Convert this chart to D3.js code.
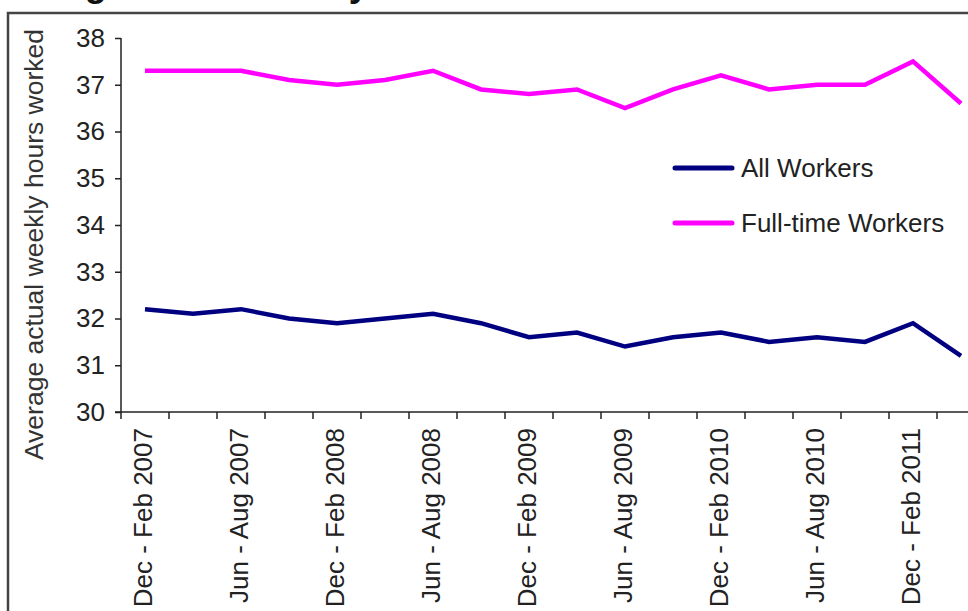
<!DOCTYPE html>
<html>
<head>
<meta charset="utf-8">
<script src="https://cdn.jsdelivr.net/npm/d3@7"></script>
<style>
  body { margin: 0; background: #fff; }
  text { font-family: "Liberation Sans", Arial, sans-serif; fill: #222; }
</style>
</head>
<body>
<script>
// ----------------------------------- DATA --------------------------------------------
var periods = ['Dec - Feb 2007', 'Mar - May 2007', 'Jun - Aug 2007', 'Sep - Nov 2007',
               'Dec - Feb 2008', 'Mar - May 2008', 'Jun - Aug 2008', 'Sep - Nov 2008',
               'Dec - Feb 2009', 'Mar - May 2009', 'Jun - Aug 2009', 'Sep - Nov 2009',
               'Dec - Feb 2010', 'Mar - May 2010', 'Jun - Aug 2010', 'Sep - Nov 2010',
               'Dec - Feb 2011', 'Mar - May 2011']

var allWorkers = [32.2, 32.1, 32.2, 32.0, 31.9, 32.0, 32.1, 31.9, 31.6, 31.7,
                  31.4, 31.6, 31.7, 31.5, 31.6, 31.5, 31.9, 31.2]

var fullTimeWorkers = [37.3, 37.3, 37.3, 37.1, 37.0, 37.1, 37.3, 36.9, 36.8, 36.9,
                       36.5, 36.9, 37.2, 36.9, 37.0, 37.0, 37.5, 36.6]

var yTicks = [30, 31, 32, 33, 34, 35, 36, 37, 38]

var seriesNames = ['All Workers', 'Full-time Workers']
var seriesColors = ['#000080', '#ff00ff']

var chartTitle = 'Average actual weekly hours worked'
var yTitle = 'Average actual weekly hours worked'

// ----------------------------------- SVG and BACKGROUND --------------------------------------------
var width = 968
var height = 611

var svg = d3.select('body')
      .append('svg')
      .attr('width', width)
      .attr('height', height)

svg.append('rect')
      .attr('width', '100%')
      .attr('height', '100%')
      .attr('fill', '#fff')

// title sits above the cropped top edge, only its descenders show
svg.append('text')
      .attr('x', -14)
      .attr('y', -4)
      .style('font-size', '36px')
      .style('font-weight', 'bold')
      .style('fill', '#111')
      .text(chartTitle)

// chart frame, runs off the right and bottom
svg.append('rect')
      .attr('x', 8)
      .attr('y', 13)
      .attr('width', 1000)
      .attr('height', 700)
      .attr('fill', 'none')
      .attr('stroke', '#444')
      .attr('stroke-width', 2.5)

// ----------------------------------- SCALES --------------------------------------------
var x = d3.scaleBand()
      .domain(periods)
      .range([121, 121 + 48 * periods.length])

var y = d3.scaleLinear()
      .domain([30, 38])
      .range([412, 38])

// ----------------------------------- AXES --------------------------------------------
var yAxis = svg.append('g')
      .attr('transform', 'translate(121,0)')
      .call(d3.axisLeft(y).tickValues(yTicks).tickSize(6).tickPadding(10).tickFormat(d3.format('d')))

yAxis.select('.domain').attr('stroke', '#222').attr('stroke-width', 1.5).attr('d', 'M0,38V412')
yAxis.selectAll('.tick line').attr('stroke', '#222').attr('stroke-width', 1.5)
yAxis.selectAll('.tick text').style('font-size', '26px').style('fill', '#222')

var xAxis = svg.append('g')
      .attr('transform', 'translate(0,412)')
      .call(d3.axisBottom(x).tickSize(0).tickFormat(''))

xAxis.select('.domain').attr('stroke', '#222').attr('stroke-width', 1.5)
      .attr('d', 'M115,0H' + width)

// ticks between categories
xAxis.selectAll('line.sep')
      .data(periods)
      .enter()
      .append('line')
      .attr('class', 'sep')
      .attr('x1', function(d){ return x(d) })
      .attr('x2', function(d){ return x(d) })
      .attr('y1', 0)
      .attr('y2', 7)
      .attr('stroke', '#222')
      .attr('stroke-width', 1.5)

// labels on every other category
xAxis.selectAll('text.lab')
      .data(periods.filter(function(d, i){ return i % 2 === 0 }))
      .enter()
      .append('text')
      .attr('class', 'lab')
      .attr('transform', function(d){
        return 'translate(' + (x(d) + x.bandwidth() / 2 - 2) + ',16) rotate(-90)'
      })
      .attr('dy', '0.35em')
      .attr('text-anchor', 'end')
      .style('font-size', '26px')
      .style('fill', '#222')
      .text(function(d){ return d })

svg.append('text')
      .attr('transform', 'translate(43,29) rotate(-90)')
      .attr('text-anchor', 'end')
      .style('font-size', '26.5px')
      .style('fill', '#333')
      .text(yTitle)

// ----------------------------------- LINES --------------------------------------------
var line = d3.line()
      .x(function(d, i){ return x(periods[i]) + x.bandwidth() / 2 })
      .y(function(d){ return y(d) })

svg.selectAll('path.series')
      .data([allWorkers, fullTimeWorkers])
      .enter()
      .append('path')
      .attr('class', 'series')
      .attr('d', line)
      .attr('fill', 'none')
      .attr('stroke', function(d, i){ return seriesColors[i] })
      .attr('stroke-width', 4.5)
      .attr('stroke-linejoin', 'miter')

// ----------------------------------- LEGEND --------------------------------------------
var legend = svg.selectAll('g.legend')
      .data(seriesNames)
      .enter()
      .append('g')
      .attr('class', 'legend')
      .attr('transform', function(d, i){ return 'translate(675,' + (168 + i * 55) + ')' })

legend.append('line')
      .attr('x1', 0)
      .attr('x2', 57)
      .attr('stroke', function(d, i){ return seriesColors[i] })
      .attr('stroke-width', 5)
      .attr('stroke-linecap', 'round')

legend.append('text')
      .attr('x', 66)
      .attr('dy', '0.35em')
      .style('font-size', '26px')
      .style('fill', '#222')
      .text(function(d){ return d })
</script>
</body>
</html>
